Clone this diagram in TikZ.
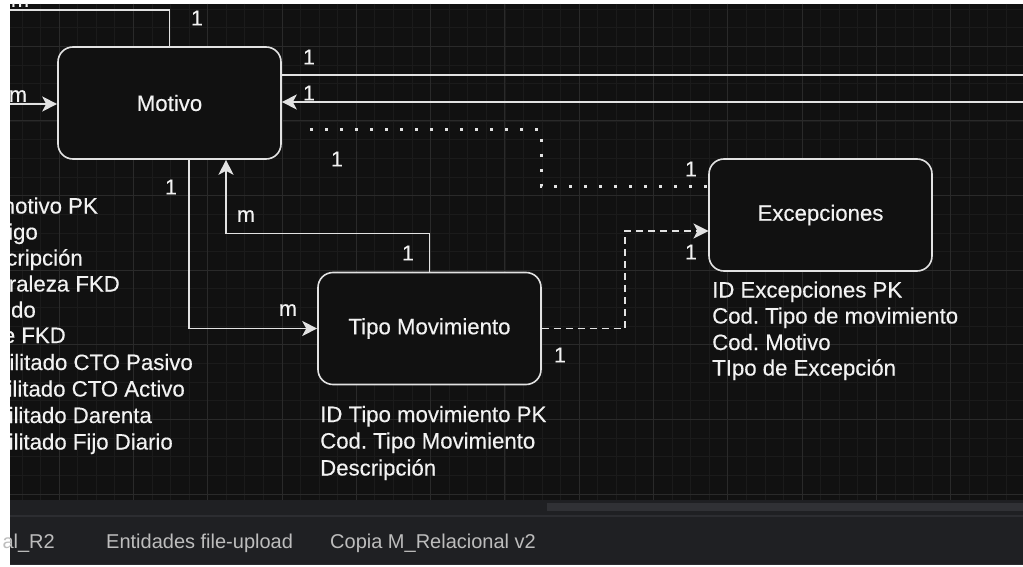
\documentclass[tikz,border=0pt]{standalone}
\usepackage{fontspec}
\setmainfont{Liberation Sans}
\newfontfamily\diafont[FakeBold=0.35]{Liberation Sans}
\usetikzlibrary{arrows.meta}
\frenchspacing
\definecolor{bg}{HTML}{111111}
\definecolor{gridminor}{HTML}{1B1B1B}
\definecolor{gridmajor}{HTML}{2A2A2A}
\definecolor{fg}{HTML}{F2F2F2}
\definecolor{edge}{HTML}{E2E2E2}
\definecolor{bar}{HTML}{1F2023}
\definecolor{barline}{HTML}{2C2D31}
\definecolor{thumb}{HTML}{303135}
\definecolor{tabtext}{HTML}{BDBDBD}
\tikzset{
  entity/.style={draw=edge, line width=1.6pt, fill=bg, rounded corners=15pt,
    minimum width=223pt, minimum height=112pt, inner sep=0pt, text=fg,
    font=\diafont\fontsize{22.2}{26}\selectfont},
  conn/.style={draw=edge, line width=1.8pt},
  tip/.style={-{Stealth[length=15pt,width=15pt,inset=4pt]}},
  dotline/.style={draw=edge, line width=3pt, dash pattern=on 3pt off 12pt},
  dashline/.style={draw=edge, line width=1.8pt, dash pattern=on 7pt off 5pt},
  lbl/.style={text=fg, inner sep=0pt, font=\diafont\fontsize{21.5}{24}\selectfont},
  attr/.style={text=fg, inner sep=0pt, font=\diafont\fontsize{22.2}{26}\selectfont},
  tabtxt/.style={text=tabtext, inner sep=0pt, font=\fontsize{20}{24}\selectfont},
}
\begin{document}
\begin{tikzpicture}[x=1pt,y=-1pt]
\useasboundingbox (0,0) rectangle (1023,567);
\fill[white] (0,0) rectangle (1023,567);
\fill[bg] (10,4) rectangle (1023,500);
% bottom bars
\fill[bar] (10,500) rectangle (1023,564);
\fill[thumb] (547,503) rectangle (1023,511);
\draw[barline, line width=1.2pt] (10,516) -- (1023,516);
\draw[barline, line width=1.5pt] (10,564.5) -- (1023,564.5);
\node[tabtxt, anchor=base east] (tab1) at (55,548) {al\_R2};
\node[tabtxt, anchor=base west] (tab2) at (106,548) {Entidades file-upload};
\node[tabtxt, anchor=base west] (tab3) at (330,548) {Copia M\_Relacional v2};
\begin{scope}
\clip (10,4) rectangle (1023,500);
% grid
\foreach \i in {-3,...,52} {
  \draw[gridminor, line width=0.8pt] ({59.1+\i*18.575},4) -- ({59.1+\i*18.575},500);
}
\foreach \j in {-3,...,30} {
  \draw[gridminor, line width=0.8pt] (10,{46.4+\j*18.65}) -- (1023,{46.4+\j*18.65});
}
\foreach \i in {0,...,13} {
  \draw[gridmajor, line width=1pt] ({59.1+\i*74.3},4) -- ({59.1+\i*74.3},500);
}
\foreach \j in {0,...,6} {
  \draw[gridmajor, line width=1pt] (10,{46.4+\j*74.6}) -- (1023,{46.4+\j*74.6});
}
% entities
\node[entity] (motivo) at (169.5,103) {Motivo};
\node[entity] (tipo) at (429.5,328.5) {Tipo Movimiento};
\node[entity] (exc) at (820.5,215) {Excepciones};
% free ends / corners
\coordinate (topin) at (0,10);
\coordinate (leftin) at (0,104);
\coordinate (rout) at (1030,75);
\coordinate (rin) at (1030,102);
\coordinate (dstart) at (310,130);
\coordinate (dcorner) at (541,186);
\coordinate (dend) at (708.5,186);
\coordinate (qcorner) at (625,231);
\coordinate (qend) at (708.5,231);
\coordinate (elb) at (226,233.5);
% connectors
\draw[conn] (topin) -| (motivo.north);
\draw[conn, tip] (leftin) -- (leftin -| motivo.west);
\draw[conn] (rout -| motivo.east) -- (rout);
\draw[conn, tip] (rin) -- (rin -| motivo.east);
\draw[dotline] (dstart) -| (dcorner) -- (dend);
\draw[dashline, tip] (tipo.east) -| (qcorner) -- (qend);
\draw[conn, tip] ([xshift=19.5pt]motivo.south) |- (tipo.west);
\draw[conn, tip] (tipo.north) |- (elb) -- (elb |- motivo.south);
% cardinality labels
\node[lbl] (ltop) at (20,1) {m};
\node[lbl] (l1a) at (197,18) {1};
\node[lbl] (lm1) at (18,96) {m};
\node[lbl] (l1b) at (309,57) {1};
\node[lbl] (l1c) at (309,93) {1};
\node[lbl] (l1d) at (337,159) {1};
\node[lbl] (l1e) at (691,169) {1};
\node[lbl] (l1f) at (691,252) {1};
\node[lbl] (l1g) at (171,187) {1};
\node[lbl] (lm2) at (246,216) {m};
\node[lbl] (l1h) at (408,253) {1};
\node[lbl] (lm3) at (288,310) {m};
\node[lbl] (l1i) at (560,355) {1};
% attribute lists
\node[attr, anchor=base east] (ma1) at (98,213.5) {notivo PK};
\node[attr, anchor=base east] (ma2) at (38,239.5) {igo};
\node[attr, anchor=base east] (ma3) at (83,265.5) {cripción};
\node[attr, anchor=base east] (ma4) at (120,291.5) {raleza FKD};
\node[attr, anchor=base east] (ma5) at (36,317.5) {do};
\node[attr, anchor=base east] (ma6) at (66,343) {e FKD};
\node[attr, anchor=base east] (ma7) at (193,370) {ilitado CTO Pasivo};
\node[attr, anchor=base east] (ma8) at (185,396.5) {ilitado CTO Activo};
\node[attr, anchor=base east] (ma9) at (152,423) {ilitado Darenta};
\node[attr, anchor=base east] (ma10) at (173,449.5) {ilitado Fijo Diario};
\node[attr, anchor=base west] (ta1) at (320,422) {ID Tipo movimiento PK};
\node[attr, anchor=base west] (ta2) at (320,448.5) {Cod. Tipo Movimiento};
\node[attr, anchor=base west] (ta3) at (320,475.5) {Descripción};
\node[attr, anchor=base west] (ea1) at (712,297.5) {ID Excepciones PK};
\node[attr, anchor=base west] (ea2) at (712,323.5) {Cod. Tipo de movimiento};
\node[attr, anchor=base west] (ea3) at (712,350) {Cod. Motivo};
\node[attr, anchor=base west] (ea4) at (712,375.5) {TIpo de Excepción};
\end{scope}
\end{tikzpicture}
\end{document}
